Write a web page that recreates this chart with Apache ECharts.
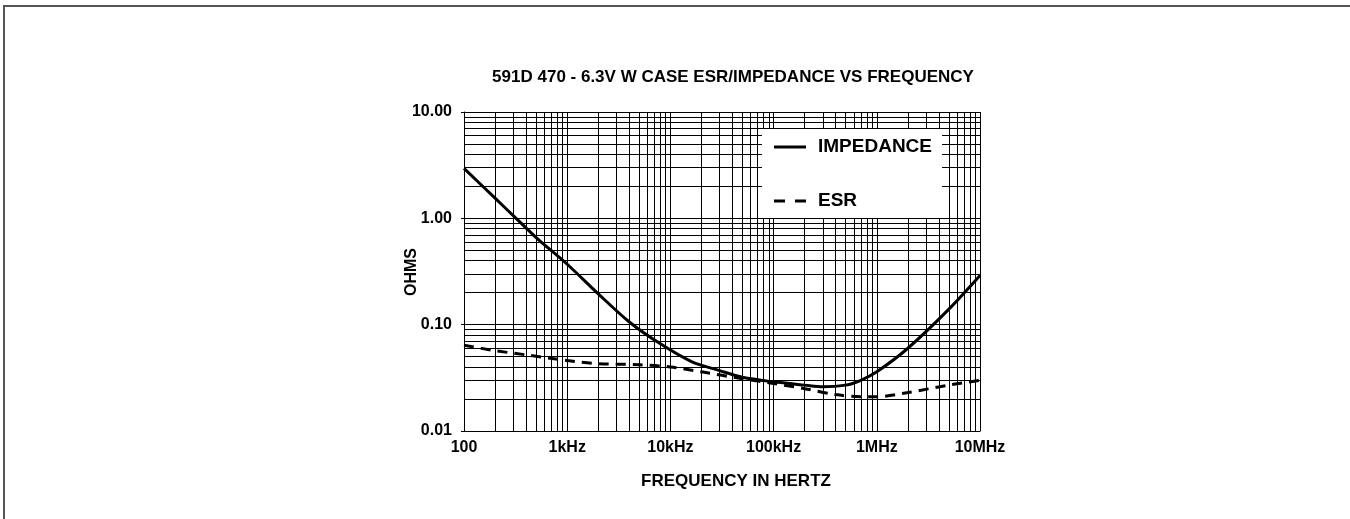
<!DOCTYPE html>
<html>
<head>
<meta charset="utf-8">
<script src="https://cdn.jsdelivr.net/npm/echarts@6/dist/echarts.min.js"></script>
<style>
  html, body { margin: 0; padding: 0; background: #fff; }
  #frame { position: absolute; left: 3px; top: 5px; width: 1400px; height: 600px;
           border-left: 2px solid #555; border-top: 2px solid #555; }
  #chart { position: absolute; left: 0; top: 0; width: 1350px; height: 519px; }
</style>
</head>
<body>
<div id="frame"></div>
<div id="chart"></div>
<script>
// frequency in Hz, values in ohms
const impFreq = [100, 200, 316, 500, 1000, 2000, 4000, 8000, 16000, 30000, 50000, 100000, 200000, 300000, 500000, 700000, 1000000, 2000000, 5000000, 10000000]
const impedance = [2.95, 1.55, 1.01, 0.66, 0.37, 0.195, 0.106, 0.066, 0.045, 0.037, 0.032, 0.029, 0.027, 0.026, 0.027, 0.030, 0.036, 0.060, 0.14, 0.29]
const esrFreq = [100, 200, 400, 1000, 2000, 5000, 10000, 20000, 50000, 100000, 200000, 400000, 700000, 1000000, 2000000, 5000000, 10000000]
const esr = [0.064, 0.057, 0.052, 0.046, 0.043, 0.042, 0.040, 0.036, 0.031, 0.028, 0.025, 0.022, 0.021, 0.021, 0.023, 0.027, 0.030]

const xTickLabels = ['100', '1kHz', '10kHz', '100kHz', '1MHz', '10MHz']
const yTickLabels = ['0.01', '0.10', '1.00', '10.00']
const xDecades = [100, 1000, 10000, 100000, 1000000]
const yDecades = [0.01, 0.1, 1]
const minorSteps = [2, 3, 4, 5, 6, 7, 8, 9]

const font = 'Liberation Sans, Arial, sans-serif'
const xGrid = xDecades.flatMap(d => minorSteps.map(m => d * m))
const yGrid = yDecades.flatMap(d => minorSteps.map(m => +(d * m).toPrecision(3)))

const chart = echarts.init(document.getElementById('chart'))

chart.setOption({
  animation: false,
  grid: { left: 464, right: 370, top: 112, bottom: 88 },
  legend: {
    data: [
      { name: 'IMPEDANCE', icon: 'path://M0,0H32V3H0Z' },
      { name: 'ESR', icon: 'path://M0,0H11V3H0Z M21,0H32V3H21Z' }
    ],
    orient: 'vertical',
    left: 762,
    top: 129,
    z: 20,
    padding: [8, 10, 7, 12],
    itemGap: 34,
    itemWidth: 32,
    itemHeight: 3,
    backgroundColor: '#fff',
    itemStyle: { color: '#000', borderWidth: 0 },
    textStyle: { color: '#000', fontFamily: font, fontWeight: 'bold', fontSize: 19, lineHeight: 20, padding: [0, 0, 0, 7] }
  },
  graphic: [
    { type: 'text', style: { x: 733, y: 77, text: '591D 470 - 6.3V W CASE ESR/IMPEDANCE VS FREQUENCY', textAlign: 'center', textVerticalAlign: 'middle', font: 'bold 17px ' + font, fill: '#000' } },
    { type: 'text', style: { x: 736, y: 481, text: 'FREQUENCY IN HERTZ', textAlign: 'center', textVerticalAlign: 'middle', font: 'bold 17px ' + font, fill: '#000' } },
    { type: 'text', x: 412, y: 272, rotation: Math.PI / 2, style: { x: 0, y: 0, text: 'OHMS', textAlign: 'center', textVerticalAlign: 'middle', font: 'bold 16px ' + font, fill: '#000' } }
  ],
  xAxis: {
    type: 'log',
    logBase: 10,
    min: 100,
    max: 10000000,
    splitNumber: 5,
    axisLine: { lineStyle: { color: '#000', width: 1 } },
    axisTick: { show: false },
    splitLine: { show: true, lineStyle: { color: '#000', width: 1 } },
    axisLabel: {
      color: '#000', fontFamily: font, fontWeight: 'bold', fontSize: 16, margin: 9,
      formatter: v => xTickLabels[Math.round(Math.log10(v)) - 2]
    }
  },
  yAxis: {
    type: 'log',
    logBase: 10,
    min: 0.01,
    max: 10,
    splitNumber: 3,
    axisLine: { show: true, lineStyle: { color: '#000', width: 1 } },
    axisTick: { show: true, length: 3, lineStyle: { color: '#000' } },
    splitLine: { show: true, lineStyle: { color: '#000', width: 1 } },
    axisLabel: {
      color: '#000', fontFamily: font, fontWeight: 'bold', fontSize: 16, margin: 12,
      formatter: v => yTickLabels[Math.round(Math.log10(v)) + 2]
    }
  },
  series: [
    {
      name: 'grid',
      type: 'line',
      data: [],
      silent: true,
      z: 1,
      markLine: {
        silent: true,
        symbol: 'none',
        animation: false,
        label: { show: false },
        lineStyle: { color: '#000', width: 1, type: 'solid' },
        data: xGrid.map(v => ({ xAxis: v })).concat(yGrid.map(v => ({ yAxis: v })))
      }
    },
    {
      name: 'IMPEDANCE',
      type: 'line',
      smooth: 0.3,
      showSymbol: false,
      symbol: 'none',
      z: 3,
      data: impFreq.map((f, i) => [f, impedance[i]]),
      lineStyle: { color: '#000', width: 3 },
      itemStyle: { color: '#000' }
    },
    {
      name: 'ESR',
      type: 'line',
      smooth: 0.3,
      showSymbol: false,
      symbol: 'none',
      z: 3,
      data: esrFreq.map((f, i) => [f, esr[i]]),
      lineStyle: { color: '#000', width: 3, type: [10, 7] },
      itemStyle: { color: '#000' }
    }
  ]
})
</script>
</body>
</html>
